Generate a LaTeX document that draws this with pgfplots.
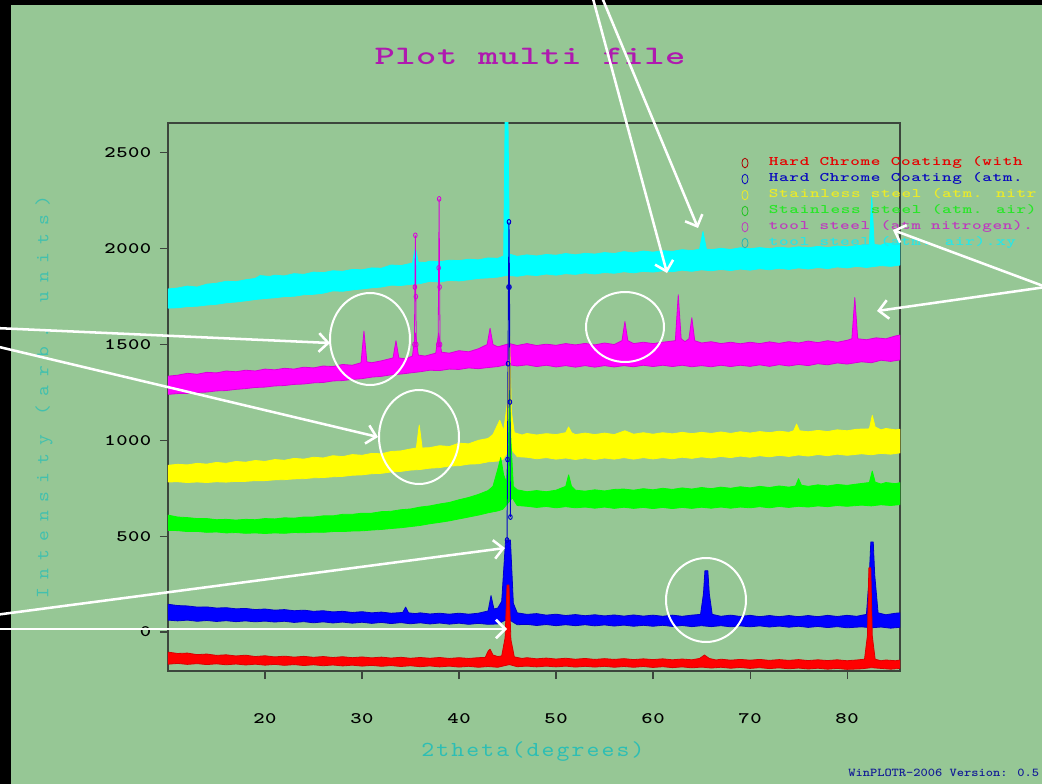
\documentclass[border=0pt]{standalone}
\usepackage{fontspec}
\usepackage{pgfplots}
\pgfplotsset{compat=1.18}
\usetikzlibrary{arrows.meta}
\newfontfamily\titlefont{lmmonolt10-bold}[Extension=.otf, FakeStretch=1.45, LetterSpace=2]
\newfontfamily\tickfont{lmmonolt10-bold}[Extension=.otf, FakeStretch=1.35, LetterSpace=3]
\newfontfamily\legfont{lmmonolt10-bold}[Extension=.otf, FakeStretch=1.4, LetterSpace=5]
\newfontfamily\xlabfont{lmmono10-regular}[Extension=.otf, FakeStretch=1.15, LetterSpace=10]
\newfontfamily\ylabfont{lmmono10-regular}[Extension=.otf, FakeStretch=1.1, LetterSpace=45]
\newfontfamily\wpfont{lmmonolt10-bold}[Extension=.otf, FakeStretch=1.15]
\definecolor{bg}{RGB}{150,199,149}
\definecolor{axgray}{RGB}{60,70,60}
\definecolor{ttl}{RGB}{175,25,175}
\definecolor{lbl}{RGB}{45,190,180}
\definecolor{cR}{RGB}{255,0,0}
\definecolor{cB}{RGB}{0,0,255}
\definecolor{cY}{RGB}{255,255,0}
\definecolor{cG}{RGB}{0,255,0}
\definecolor{cM}{RGB}{255,0,255}
\definecolor{cC}{RGB}{0,255,255}
\definecolor{tR}{RGB}{230,0,0}
\definecolor{tB}{RGB}{10,10,190}
\definecolor{tY}{RGB}{235,235,40}
\definecolor{tG}{RGB}{40,230,40}
\definecolor{tM}{RGB}{190,60,190}
\definecolor{tC}{RGB}{40,230,230}
\definecolor{wp}{RGB}{20,30,150}
\pgfplotsset{
  legmark/.style={legend image code/.code={%
    \draw[#1, fill=none, line width=0.6pt] (0pt,0pt) ellipse [x radius=2.3pt,y radius=3.6pt];
    \path[draw=none, fill=none] (-3pt,0pt) -- (18pt,0pt);}},
  band/.style 2 args={forget plot, fill=#1, draw=#2, line width=0.6pt, line join=round},
}
\begin{document}
\begin{tikzpicture}
\useasboundingbox (0,0) rectangle (781.5pt,-588pt);
\fill[bg] (0,0) rectangle (781.5pt,-588pt);
\fill[black] (0,0) rectangle (8.25pt,-588pt);
\fill[black] (0,0) rectangle (781.5pt,-3.75pt);
\begin{axis}[
  at={(126pt,-503.25pt)}, anchor=south west,
  scale only axis, width=549pt, height=411pt,
  xmin=10, xmax=85.46, ymin=-203.5, ymax=2656,
  axis line style={draw=axgray, line width=0.9pt},
  xtick={20,30,...,80}, ytick={0,500,...,2500},
  tick pos=left, tick align=outside, major tick length=6pt,
  tick style={draw=axgray, line width=0.8pt},
  scaled ticks=false, /pgf/number format/1000 sep={},
  /pgf/number format/assume math mode=true,
  ticklabel style={font=\tickfont\fontsize{12}{12}\selectfont, text=black},
  xticklabel style={anchor=center, yshift=-30pt},
  yticklabel style={anchor=east, xshift=-3pt},
  title={Plot multi file},
  title style={at={(axis description cs:0.4945,1.1077)}, anchor=center, text=ttl,
     font=\titlefont\fontsize{20}{20}\selectfont},
  xlabel={2theta(degrees)},
  xlabel style={at={(axis description cs:0.4986,-0.1478)}, anchor=center, text=lbl,
     font=\xlabfont\fontsize{16}{16}\selectfont},
  ylabel={Intensity (arb. units)},
  ylabel style={at={(axis description cs:-0.1694,0.5)}, anchor=center, text=lbl!80!bg,
     font=\ylabfont\fontsize{14}{14}\selectfont},
  legend cell align=left,
  legend style={at={(axis description cs:0.7824,0.942)}, anchor=north west, draw=none, fill=none,
     inner sep=0pt, row sep=0pt, column sep=0pt,
     nodes={inner sep=0pt, text height=8pt, text depth=4pt,
       font=\legfont\fontsize{9.8}{9.8}\selectfont}},
]
% draw order: cyan, magenta, yellow, green, blue, red
% tool steel (atm. air): upper edge left to right, then lower edge right to left
\addplot[band={cC}{cC}] coordinates {
(10,1790) (11,1795) (12,1805) (13,1800) (14,1815) (15,1820) (16,1830) (17,1828) (18,1838) (19,1845) (19.5,1860) (20.5,1855) (21,1862) (22,1858) (23,1870) (24,1866) (25,1878) (26,1875) (27,1885) (28,1882) (29,1892) (30,1890) (31,1900) (32,1898) (33,1915) (34,1912) (35.2,1925) (35.5,2005) (35.8,1930) (36.5,1928) (37,1935) (38,1932) (39,1940) (40,1938) (41,1945) (42,1942) (43,1952) (44,1950) (44.6,1962) (44.75,2660) (45.05,2660) (45.2,1972) (46,1960) (47,1968) (48,1962) (49,1970) (50,1966) (51,1975) (52,1968) (53,1976) (54,1972) (55,1980) (56,1975) (57,1985) (58,1978) (59,1988) (60,1982) (61,1990) (62,1986) (63,1995) (64,1990) (64.8,1998) (65.15,2090) (65.5,1998) (66,1995) (67,2002) (68,1996) (69,2005) (70,2000) (71,2006) (72,2000) (73,2008) (74,2003) (75,2010) (76,2005) (77,2012) (78,2006) (79,2014) (80,2010) (81,2016) (82.3,2020) (82.55,2270) (82.8,2022) (83.5,2018) (84,2030) (85,2025) (85.5,2035)
(85.5,1915) (84.5,1908) (83.5,1912) (82,1902) (81,1908) (80,1900) (79,1905) (78,1896) (77,1902) (76,1894) (75,1900) (74,1892) (73,1898) (72,1890) (71,1896) (70,1888) (69,1894) (68,1886) (67,1892) (66,1885) (65,1890) (64,1882) (63,1888) (62,1880) (61,1885) (60,1878) (59,1882) (58,1874) (57,1880) (56,1872) (55,1876) (54,1868) (53,1874) (52,1866) (51,1870) (50,1862) (49,1868) (48,1860) (47,1864) (46,1856) (45,1862) (44,1852) (43,1848) (42,1845) (41,1838) (40,1832) (39,1835) (38,1826) (37,1830) (36,1818) (35,1814) (34,1808) (33,1810) (32,1800) (31,1796) (30,1790) (29,1785) (28,1778) (27,1780) (26,1768) (25,1762) (24,1760) (23,1752) (22,1750) (21,1744) (20,1740) (19,1735) (18,1728) (17,1722) (16,1718) (15,1710) (14,1706) (13,1700) (12,1698) (11,1692) (10,1690)};
% tool steel (atm nitrogen)
\addplot[band={cM}{cM!85!black}] coordinates {
(10,1335) (11,1340) (12,1350) (13,1345) (14,1355) (15,1352) (16,1362) (17,1358) (18,1366) (19,1362) (20,1372) (21,1368) (22,1376) (23,1372) (24,1382) (25,1378) (26,1388) (27,1385) (28,1396) (29,1392) (29.9,1405) (30.2,1570) (30.5,1410) (31,1405) (32,1415) (33.2,1430) (33.5,1520) (33.8,1430) (34.5,1425) (35.2,1440) (35.5,1560) (35.8,1445) (36.5,1440) (37.6,1455) (37.9,1560) (38.2,1460) (39,1455) (40,1468) (41,1462) (42,1478) (42.9,1500) (43.2,1585) (43.5,1500) (44,1488) (44.5,1495) (45.2,1505) (46,1495) (47,1505) (48,1495) (49,1502) (50,1496) (51,1505) (52,1498) (53,1506) (54,1498) (55,1508) (56,1500) (56.8,1520) (57.1,1620) (57.4,1520) (58,1505) (59,1512) (60,1505) (61,1512) (62.3,1520) (62.6,1760) (62.9,1530) (63.3,1515) (63.7,1530) (64.0,1640) (64.3,1520) (65,1508) (66,1515) (67,1505) (68,1512) (69,1504) (70,1512) (71,1505) (72,1514) (73,1506) (74,1515) (75,1508) (76,1518) (77,1510) (78,1520) (79,1512) (80,1522) (80.5,1530) (80.8,1745) (81.1,1530) (82,1525) (83,1535) (84,1530) (85,1545) (85.5,1550)
(85.5,1420) (84.5,1412) (83.5,1418) (82.5,1405) (81.5,1410) (80,1398) (79,1404) (78,1394) (77,1400) (76,1390) (75,1396) (74,1388) (73,1395) (72,1386) (71,1394) (70,1386) (69,1392) (68,1385) (67,1392) (66,1384) (65,1390) (64,1384) (63,1392) (62,1385) (61,1392) (60,1385) (59,1392) (58,1384) (57,1390) (56,1383) (55,1390) (54,1382) (53,1390) (52,1382) (51,1390) (50,1383) (49,1392) (48,1385) (47,1394) (46,1388) (45,1396) (44,1385) (43,1380) (42,1374) (41,1378) (40,1370) (39,1372) (38,1364) (37,1366) (36,1358) (35,1352) (34,1346) (33,1342) (32,1334) (31,1330) (30,1322) (29,1318) (28,1312) (27,1310) (26,1302) (25,1300) (24,1294) (23,1292) (22,1286) (21,1284) (20,1278) (19,1276) (18,1270) (17,1266) (16,1260) (15,1258) (14,1252) (13,1250) (12,1245) (11,1244) (10,1240)};
\addplot[forget plot, draw=cM!85!black, line width=0.6pt, mark=o, mark size=1.8pt, mark options={xscale=0.75}]
coordinates {(35.4,1500) (35.45,1800) (35.5,2070) (35.55,1750) (35.6,1500)};
\addplot[forget plot, draw=cM!85!black, line width=0.6pt, mark=o, mark size=1.8pt, mark options={xscale=0.75}]
coordinates {(37.85,1500) (37.9,1900) (37.95,2260) (38.0,1800) (38.05,1500)};
% Stainless steel (atm. nitrogen)
\addplot[band={cY}{cY}] coordinates {
(10,870) (11,875) (12,872) (13,880) (14,876) (15,885) (16,880) (17,890) (18,886) (19,895) (20,890) (21,900) (22,896) (23,906) (24,902) (25,912) (26,908) (27,920) (28,915) (29,926) (30,922) (31,932) (32,930) (33,942) (34,945) (35,955) (35.6,960) (35.9,1080) (36.2,960) (37,962) (38,972) (39,968) (40,985) (41,982) (42,1000) (43,1010) (43.5,1030) (44.2,1105) (44.6,1050) (45.0,1200) (45.2,1575) (45.4,1150) (45.7,1040) (46.5,1028) (47,1036) (48,1028) (49,1035) (50,1030) (51.0,1040) (51.3,1070) (51.6,1040) (52,1030) (53,1038) (54,1030) (55,1038) (56,1030) (57.1,1050) (58,1032) (59,1040) (60,1032) (61,1040) (62,1034) (63,1042) (64,1035) (65,1042) (66,1036) (67,1044) (68,1036) (69,1045) (70,1038) (71,1046) (72,1040) (73,1048) (74,1042) (74.5,1050) (74.8,1085) (75.1,1050) (76,1045) (77,1052) (78,1046) (79,1055) (80,1050) (81,1058) (82.3,1060) (82.6,1130) (82.9,1070) (83.5,1055) (84,1062) (85,1055) (85.5,1058)
(85.5,935) (84.5,928) (83.5,932) (82.5,925) (81.5,930) (80,922) (79,928) (78,920) (77,926) (76,918) (75,924) (74,916) (73,922) (72,914) (71,920) (70,912) (69,918) (68,910) (67,916) (66,908) (65,914) (64,906) (63,912) (62,904) (61,910) (60,903) (59,910) (58,902) (57,910) (56,902) (55,908) (54,900) (53,908) (52,900) (51,908) (50,902) (49,910) (48,904) (47,912) (46,915) (45.3,960) (44.5,900) (44,892) (43,888) (42,878) (41,876) (40,868) (39,866) (38,858) (37,855) (36,848) (35,845) (34,838) (33,835) (32,828) (31,826) (30,820) (29,818) (28,812) (27,810) (26,806) (25,805) (24,800) (23,799) (22,795) (21,794) (20,790) (19,790) (18,786) (17,786) (16,782) (15,784) (14,780) (13,783) (12,780) (11,784) (10,783)};
% Stainless steel (atm. air)
\addplot[band={cG}{cG}] coordinates {
(10,610) (11,600) (12,597) (13,592) (14,592) (15,586) (16,588) (17,584) (18,588) (19,586) (20,592) (21,590) (22,596) (23,594) (24,600) (25,600) (26,606) (27,606) (28,614) (29,614) (30,620) (31,620) (32,628) (33,630) (34,638) (35,642) (36,652) (37,658) (38,668) (39,676) (40,690) (41,702) (42,718) (43,738) (43.5,760) (44.0,850) (44.3,910) (44.6,820) (44.9,780) (45.1,1000) (45.2,1260) (45.35,1000) (45.6,760) (46,742) (47,732) (48,738) (49,732) (50,740) (51.0,760) (51.3,820) (51.6,760) (52,740) (53,735) (54,742) (55,736) (56,744) (57,746) (58,740) (59,748) (60,742) (61,750) (62,744) (63,752) (64,746) (65,754) (66,748) (67,756) (68,750) (69,758) (70,752) (71,760) (72,754) (73,762) (74,756) (74.7,762) (75.0,800) (75.3,766) (76,760) (77,768) (78,762) (79,770) (80,765) (81,772) (82.3,780) (82.6,840) (82.9,782) (83.5,772) (84,780) (85,774) (85.5,780)
(85.5,665) (84.5,660) (83.5,664) (82.5,658) (81.5,662) (80,656) (79,660) (78,654) (77,658) (76,652) (75,656) (74,650) (73,655) (72,648) (71,654) (70,648) (69,652) (68,646) (67,652) (66,646) (65,651) (64,645) (63,650) (62,644) (61,650) (60,644) (59,650) (58,645) (57,651) (56,645) (55,652) (54,646) (53,652) (52,648) (51,654) (50,648) (49,655) (48,650) (47,656) (46,660) (45.5,700) (44.5,640) (44,632) (43,622) (42,610) (41,600) (40,590) (39,580) (38,572) (37,565) (36,556) (35,550) (34,544) (33,540) (32,535) (31,532) (30,528) (29,527) (28,524) (27,524) (26,520) (25,521) (24,518) (23,519) (22,515) (21,517) (20,514) (19,517) (18,515) (17,519) (16,517) (15,522) (14,520) (13,525) (12,524) (11,529) (10,530)};
% Hard Chrome Coating (atm. air)
\addplot[band={cB}{cB!80!black}] coordinates {
(10,145) (11,138) (12,136) (13,130) (14,131) (15,125) (16,127) (17,121) (18,123) (19,117) (20,120) (21,114) (22,117) (23,111) (24,114) (25,108) (26,111) (27,105) (28,108) (29,102) (30,106) (31,100) (32,104) (33,98) (34.2,102) (34.5,130) (34.8,100) (35.5,96) (36,100) (37,94) (38,98) (39,93) (40,98) (41,93) (42,98) (43.0,110) (43.3,190) (43.6,120) (44.0,125) (44.4,160) (44.8,480) (45.3,480) (45.6,150) (46,100) (47,92) (48,96) (49,88) (50,93) (51,86) (52,91) (53,85) (54,90) (55,84) (56,89) (57,83) (58,89) (59,83) (60,88) (61,82) (62,88) (63,82) (64,88) (64.9,92) (65.2,200) (65.35,320) (65.65,320) (65.8,200) (66.1,92) (67,82) (68,88) (69,81) (70,87) (71,80) (72,86) (73,80) (74,86) (75,80) (76,86) (77,80) (78,87) (79,81) (80,87) (81,82) (82.0,92) (82.3,300) (82.45,470) (82.7,470) (82.85,300) (83.2,100) (84,90) (85,98) (85.5,100)
(85.5,25) (84.5,20) (83.5,26) (82.5,22) (81.5,27) (80,22) (79,28) (78,23) (77,29) (76,24) (75,30) (74,25) (73,31) (72,26) (71,32) (70,27) (69,32) (68,27) (67,33) (66,28) (65,33) (64,28) (63,34) (62,29) (61,35) (60,30) (59,35) (58,30) (57,36) (56,31) (55,37) (54,32) (53,38) (52,33) (51,38) (50,33) (49,39) (48,34) (47,40) (46,38) (45.3,60) (44.7,60) (44,42) (43,40) (42,45) (41,40) (40,46) (39,41) (38,47) (37,42) (36,48) (35,43) (34,49) (33,44) (32,50) (31,45) (30,51) (29,46) (28,52) (27,47) (26,53) (25,48) (24,54) (23,50) (22,56) (21,52) (20,57) (19,53) (18,58) (17,54) (16,59) (15,55) (14,60) (13,56) (12,62) (11,58) (10,62)};
\addplot[forget plot, draw=cB!80!black, line width=0.7pt, mark=o, mark size=1.8pt, mark options={xscale=0.75}]
coordinates {(44.95,480) (45.0,900) (45.05,1400) (45.1,1800) (45.15,2140) (45.2,1800) (45.25,1200) (45.3,600)};
% Hard Chrome Coating (with N2)
\addplot[band={cR}{cR!85!black}] coordinates {
(10,-105) (11,-112) (12,-110) (13,-118) (14,-115) (15,-122) (16,-119) (17,-125) (18,-121) (19,-128) (20,-124) (21,-130) (22,-126) (23,-131) (24,-127) (25,-132) (26,-128) (27,-133) (28,-129) (29,-134) (30,-130) (31,-135) (32,-131) (33,-136) (34,-132) (35,-137) (36,-133) (37,-137) (38,-133) (39,-138) (40,-134) (41,-138) (42,-134) (42.7,-133) (43.0,-100) (43.2,-90) (43.5,-120) (44.0,-128) (44.4,-125) (44.75,-30) (44.95,245) (45.15,245) (45.35,-40) (45.7,-130) (46.5,-138) (47,-134) (48,-140) (49,-136) (50,-141) (51,-137) (52,-142) (53,-138) (54,-143) (55,-139) (56,-143) (57,-139) (58,-144) (59,-140) (60,-144) (61,-140) (62,-145) (63,-141) (64,-145) (64.8,-138) (65.3,-120) (65.8,-138) (66.5,-146) (67,-142) (68,-147) (69,-143) (70,-147) (71,-143) (72,-148) (73,-144) (74,-148) (75,-144) (76,-149) (77,-145) (78,-149) (79,-145) (80,-150) (81,-146) (81.8,-142) (82.1,-20) (82.25,335) (82.45,335) (82.6,-20) (82.9,-142) (83.5,-150) (84,-146) (85,-150) (85.5,-146)
(85.5,-190) (84.5,-194) (83.5,-190) (82.5,-186) (81.5,-192) (80,-195) (79,-190) (78,-194) (77,-189) (76,-193) (75,-188) (74,-192) (73,-187) (72,-191) (71,-186) (70,-190) (69,-185) (68,-189) (67,-184) (66,-188) (65,-183) (64,-187) (63,-182) (62,-186) (61,-181) (60,-185) (59,-180) (58,-184) (57,-180) (56,-184) (55,-179) (54,-183) (53,-179) (52,-183) (51,-178) (50,-182) (49,-178) (48,-182) (47,-178) (46,-181) (45.2,-170) (44.5,-178) (44,-184) (43,-180) (42,-184) (41,-179) (40,-183) (39,-178) (38,-182) (37,-177) (36,-181) (35,-176) (34,-180) (33,-175) (32,-179) (31,-174) (30,-178) (29,-173) (28,-177) (27,-172) (26,-176) (25,-171) (24,-175) (23,-170) (22,-174) (21,-169) (20,-173) (19,-168) (18,-172) (17,-167) (16,-171) (15,-166) (14,-170) (13,-165) (12,-169) (11,-164) (10,-168)};
% legend in the file's order
\addlegendimage{legmark=tR!75!black}
\addlegendentry{\textcolor{tR}{Hard Chrome Coating (with}}
\addlegendimage{legmark=tB}
\addlegendentry{\textcolor{tB}{Hard Chrome Coating (atm.}}
\addlegendimage{legmark=tY}
\addlegendentry{\textcolor{tY}{Stainless steel (atm. nitr}}
\addlegendimage{legmark=tG!85!black}
\addlegendentry{\textcolor{tG}{Stainless steel (atm. air)}}
\addlegendimage{legmark=tM}
\addlegendentry{\textcolor{tM}{tool steel (atm nitrogen).}}
\addlegendimage{legmark=tC!80!black}
\addlegendentry{\textcolor{tC}{tool steel (atm. air).xy}}
\end{axis}
\begin{scope}[x=0.75pt, y=-0.75pt, white, line width=1.9pt, arrows={-{Straight Barb[length=7pt,width=14pt]}}]
\draw (-5,328) -- (330,343);
\draw (-5,346) -- (378,437);
\draw (-5,615) -- (505,548);
\draw (-5,629) -- (507,629);
\draw (592,-5) -- (667,273);
\draw (601,-5) -- (698,228);
\draw (1046,287) -- (893,230);
\draw (1046,287) -- (877,311);
\end{scope}
\begin{scope}[x=0.75pt, y=-0.75pt, white, line width=1.5pt]
\draw (370,339) ellipse [x radius=40, y radius=46];
\draw (419,437) ellipse [x radius=40, y radius=47];
\draw (625,327) ellipse [x radius=39, y radius=35];
\draw (706,600) ellipse [x radius=40, y radius=42];
\end{scope}
\node[anchor=west, text=wp, inner sep=0pt, font=\wpfont\fontsize{9}{9}\selectfont] at (636pt,-579.75pt) {WinPLOTR-2006 Version: 0.5};
\end{tikzpicture}
\end{document}
